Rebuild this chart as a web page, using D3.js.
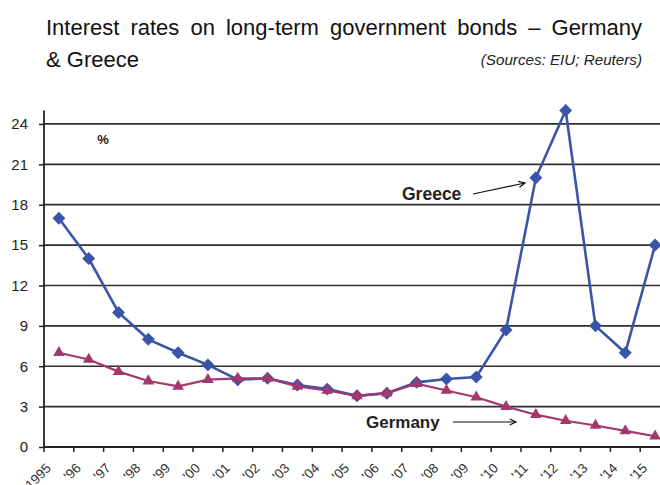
<!DOCTYPE html>
<html>
<head>
<meta charset="utf-8">
<script src="https://cdn.jsdelivr.net/npm/d3@7/dist/d3.min.js"></script>
<style>
  html, body { margin: 0; padding: 0; background: #fff; }
  svg { display: block; }
</style>
</head>
<body>
<svg id="chart" width="660" height="485"></svg>
<script>
// Long-term government bond yields, % (annual)
const years = ["1995", "'96", "'97", "'98", "'99", "'00", "'01", "'02", "'03", "'04",
               "'05", "'06", "'07", "'08", "'09", "'10", "'11", "'12", "'13", "'14", "'15"];
const greece = [17, 14, 10, 8, 7, 6.1, 5.0, 5.1, 4.6, 4.3,
                3.8, 4.0, 4.8, 5.05, 5.2, 8.7, 20, 25, 9, 7, 15];
const germany = [7.0, 6.5, 5.6, 4.9, 4.5, 5.0, 5.1, 5.1, 4.5, 4.2,
                 3.8, 4.0, 4.7, 4.2, 3.7, 3.0, 2.4, 1.95, 1.6, 1.2, 0.8];
const yTicks = [0, 3, 6, 9, 12, 15, 18, 21, 24];

const svg = d3.select("#chart");
const plotLeft = 44, plotRight = 670, plotTop = 110.5, plotBottom = 447;

const x = d3.scaleBand().domain(years).range([plotLeft, plotRight]).paddingInner(0).paddingOuter(0);
const y = d3.scaleLinear().domain([0, 25]).range([plotBottom, plotTop]);
const cx = d => x(d) + x.bandwidth() / 2;

const sans = "'Liberation Sans', Arial, Helvetica, sans-serif";

// Title (first line justified to the full width)
const titleText = "Interest rates on long-term government bonds \u2013 Germany";
const t1 = svg.append("text")
  .attr("x", 46).attr("y", 35)
  .attr("font-family", sans).attr("font-size", 22).attr("fill", "#111")
  .text(titleText);
const natural = t1.node().getComputedTextLength();
const gaps = titleText.split(" ").length - 1;
t1.attr("word-spacing", Math.max(0, (596 - natural) / gaps));
svg.append("text")
  .attr("x", 46).attr("y", 67)
  .attr("font-family", sans).attr("font-size", 22).attr("fill", "#111")
  .text("& Greece");
svg.append("text")
  .attr("x", 642).attr("y", 64.5).attr("text-anchor", "end")
  .attr("font-family", sans)
  .attr("font-size", 15.2).attr("font-style", "italic").attr("fill", "#222")
  .text("(Sources: EIU; Reuters)");

// Horizontal gridlines
svg.append("g")
  .selectAll("line")
  .data(yTicks.filter(v => v > 0))
  .join("line")
  .attr("x1", plotLeft).attr("x2", plotRight)
  .attr("y1", d => y(d)).attr("y2", d => y(d))
  .attr("stroke", "#2e2e2e").attr("stroke-width", 1.7);

// Y axis
const yAxis = svg.append("g")
  .attr("transform", `translate(${plotLeft},0)`)
  .call(d3.axisLeft(y).tickValues(yTicks).tickSize(5).tickPadding(11).tickFormat(d3.format("d")));
yAxis.select(".domain").remove();
yAxis.selectAll(".tick line").attr("stroke", "#222").attr("stroke-width", 1.5);
yAxis.selectAll(".tick text")
  .attr("font-family", sans)
  .attr("font-size", 15).attr("fill", "#222");
svg.append("line")
  .attr("x1", plotLeft).attr("x2", plotLeft).attr("y1", plotTop).attr("y2", plotBottom)
  .attr("stroke", "#222").attr("stroke-width", 1.8);

// X axis (ticks between categories)
const bounds = d3.range(years.length + 1).map(i => plotLeft + i * x.step());
svg.append("line")
  .attr("x1", plotLeft).attr("x2", plotRight).attr("y1", plotBottom).attr("y2", plotBottom)
  .attr("stroke", "#222").attr("stroke-width", 1.8);
svg.append("g")
  .selectAll("line")
  .data(bounds)
  .join("line")
  .attr("x1", d => d).attr("x2", d => d)
  .attr("y1", plotBottom).attr("y2", plotBottom + 5)
  .attr("stroke", "#222").attr("stroke-width", 1.5);
svg.append("g")
  .selectAll("text")
  .data(years)
  .join("text")
  .attr("transform", d => `translate(${cx(d) - 7},${plotBottom + 22}) rotate(-45)`)
  .attr("text-anchor", "end")
  .attr("font-family", sans)
  .attr("font-size", 13.5).attr("fill", "#333")
  .text(d => d);

// Series
const line = d3.line().x((d, i) => cx(years[i])).y(d => y(d));
const greeceColor = "#3a55a8";
const germanyColor = "#a2386e";

svg.append("path")
  .datum(greece)
  .attr("d", line)
  .attr("fill", "none").attr("stroke", greeceColor).attr("stroke-width", 2.6);
svg.append("g")
  .selectAll("path")
  .data(greece)
  .join("path")
  .attr("d", d3.symbol(d3.symbolSquare, 84))
  .attr("transform", (d, i) => `translate(${cx(years[i])},${y(d)}) rotate(45)`)
  .attr("fill", greeceColor);

svg.append("path")
  .datum(germany)
  .attr("d", line)
  .attr("fill", "none").attr("stroke", germanyColor).attr("stroke-width", 2.2);
svg.append("g")
  .selectAll("path")
  .data(germany)
  .join("path")
  .attr("d", d3.symbol(d3.symbolTriangle, 58))
  .attr("transform", (d, i) => `translate(${cx(years[i])},${y(d)})`)
  .attr("fill", germanyColor);

// Annotations
svg.append("text")
  .attr("x", 103).attr("y", 144).attr("text-anchor", "middle")
  .attr("font-family", sans)
  .attr("font-size", 13).attr("font-weight", "bold").attr("fill", "#222")
  .text("%");

svg.append("text")
  .attr("x", 402).attr("y", 200)
  .attr("font-family", sans).attr("font-size", 17.5).attr("font-weight", "bold").attr("fill", "#222")
  .text("Greece");
svg.append("text")
  .attr("x", 366).attr("y", 428)
  .attr("font-family", sans).attr("font-size", 17).attr("font-weight", "bold").attr("fill", "#222")
  .text("Germany");

function arrow(x1, y1, x2, y2) {
  const g = svg.append("g").attr("stroke", "#111").attr("stroke-width", 1.2).attr("fill", "none");
  g.append("line").attr("x1", x1).attr("y1", y1).attr("x2", x2).attr("y2", y2);
  const a = Math.atan2(y2 - y1, x2 - x1), L = 7, w = 0.45;
  g.append("path").attr("d",
    `M${x2 - L * Math.cos(a - w)},${y2 - L * Math.sin(a - w)}L${x2},${y2}L${x2 - L * Math.cos(a + w)},${y2 - L * Math.sin(a + w)}`);
}
arrow(473, 194, 525, 183);
arrow(453, 422, 516, 422);
</script>
</body>
</html>
